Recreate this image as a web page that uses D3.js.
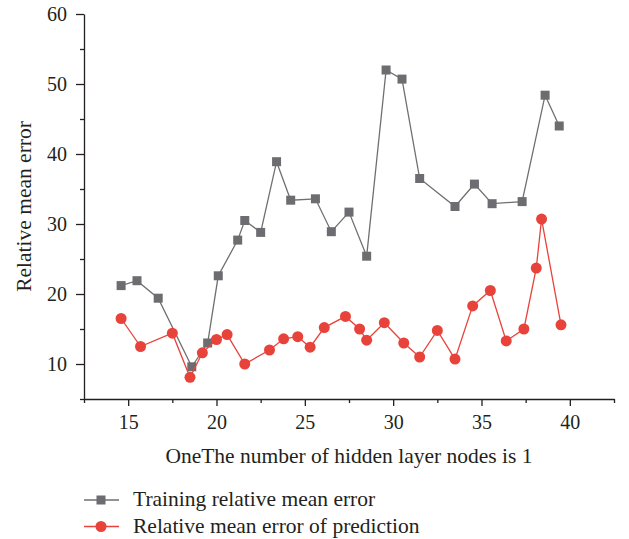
<!DOCTYPE html>
<html>
<head>
<meta charset="utf-8">
<script src="https://cdn.jsdelivr.net/npm/d3@7"></script>
<style>
  body { margin: 0; background: #fff; }
  svg text { font-family: "Liberation Serif", serif; fill: #231f20; }
</style>
</head>
<body>
<div id="chart"></div>
<script>
// training error (grey squares)
const trainX = [14.6, 15.5, 16.7, 18.6, 19.5, 20.1, 21.2, 21.6, 22.5, 23.4, 24.2, 25.6, 26.5, 27.5, 28.5, 29.6, 30.5, 31.5, 33.5, 34.6, 35.6, 37.3, 38.6, 39.4]
const trainY = [21.2, 21.9, 19.4, 9.6, 13.0, 22.6, 27.7, 30.5, 28.8, 38.9, 33.4, 33.6, 28.9, 31.7, 25.4, 52.0, 50.7, 36.5, 32.5, 35.7, 32.9, 33.2, 48.4, 44.0]

// prediction error (red circles)
const predX = [14.6, 15.7, 17.5, 18.5, 19.2, 20.0, 20.6, 21.6, 23.0, 23.8, 24.6, 25.3, 26.1, 27.3, 28.1, 28.5, 29.5, 30.6, 31.5, 32.5, 33.5, 34.5, 35.5, 36.4, 37.4, 38.1, 38.4, 39.5]
const predY = [16.5, 12.5, 14.4, 8.1, 11.6, 13.5, 14.2, 10.0, 12.0, 13.6, 13.9, 12.4, 15.2, 16.8, 15.0, 13.4, 15.9, 13.0, 11.0, 14.8, 10.7, 18.3, 20.5, 13.3, 15.0, 23.7, 30.7, 15.6]

const xTicks = [15, 20, 25, 30, 35, 40]
const xMinor = [12.5, 17.5, 22.5, 27.5, 32.5, 37.5, 42.5]
const yTicks = [10, 20, 30, 40, 50, 60]
const yMinor = [5, 15, 25, 35, 45, 55]

const seriesNames = ["Training relative mean error", "Relative mean error of prediction"]
const xTitle = "OneThe number of hidden layer nodes is 1"
const yTitle = "Relative mean error"

const grey = "#6d6d71"
const greyLine = "#6f6f6f"
const red = "#e8433b"

const W = 629, H = 539
const svg = d3.select("#chart").append("svg")
  .attr("width", W)
  .attr("height", H)

const x = d3.scaleLinear().domain([12.5, 42.5]).range([84, 614])
const y = d3.scaleLinear().domain([5, 60]).range([399, 14])

const axisColor = "#231f20"

function styleAxis(g) {
  g.select(".domain").attr("stroke", axisColor).attr("stroke-width", 1.3)
  g.selectAll(".tick line").attr("stroke", axisColor).attr("stroke-width", 1.3)
  g.selectAll(".tick text").attr("font-size", "20px").attr("fill", axisColor)
}

// x axis
svg.append("g")
  .attr("transform", `translate(0,${y(5)})`)
  .call(d3.axisBottom(x).tickValues(xMinor).tickSize(4).tickFormat("").tickSizeOuter(0))
  .call(styleAxis)
svg.append("g")
  .attr("transform", `translate(0,${y(5)})`)
  .call(d3.axisBottom(x).tickValues(xTicks).tickSize(7).tickPadding(9).tickSizeOuter(0))
  .call(styleAxis)
  .call((g) => g.select(".domain").remove())

// y axis
svg.append("g")
  .attr("transform", `translate(${x(12.5)},0)`)
  .call(d3.axisLeft(y).tickValues(yMinor).tickSize(4).tickFormat("").tickSizeOuter(0))
  .call(styleAxis)
svg.append("g")
  .attr("transform", `translate(${x(12.5)},0)`)
  .call(d3.axisLeft(y).tickValues(yTicks).tickSize(8).tickPadding(9).tickSizeOuter(0))
  .call(styleAxis)
  .call((g) => g.select(".domain").remove())

// axis titles
svg.append("text")
  .attr("x", (x.range()[0] + x.range()[1]) / 2)
  .attr("y", 463)
  .attr("text-anchor", "middle")
  .attr("font-size", "21.5px")
  .text(xTitle)

svg.append("text")
  .attr("transform", `translate(31,${(y.range()[0] + y.range()[1]) / 2}) rotate(-90)`)
  .attr("text-anchor", "middle")
  .attr("font-size", "21.5px")
  .text(yTitle)

const line = d3.line().x((d) => x(d[0])).y((d) => y(d[1]))
const trainData = trainX.map((v, i) => [v, trainY[i]])
const predData = predX.map((v, i) => [v, predY[i]])

// training series
svg.append("path")
  .datum(trainData)
  .attr("fill", "none")
  .attr("stroke", greyLine)
  .attr("stroke-width", 1.3)
  .attr("d", line)

const sq = 9
svg.selectAll(".train-pt")
  .data(trainData)
  .enter()
  .append("rect")
  .attr("class", "train-pt")
  .attr("x", (d) => x(d[0]) - sq / 2)
  .attr("y", (d) => y(d[1]) - sq / 2)
  .attr("width", sq)
  .attr("height", sq)
  .attr("fill", grey)

// prediction series
svg.append("path")
  .datum(predData)
  .attr("fill", "none")
  .attr("stroke", red)
  .attr("stroke-width", 1.3)
  .attr("d", line)

svg.selectAll(".pred-pt")
  .data(predData)
  .enter()
  .append("circle")
  .attr("class", "pred-pt")
  .attr("cx", (d) => x(d[0]))
  .attr("cy", (d) => y(d[1]))
  .attr("r", 5.5)
  .attr("fill", red)

// legend
const legend = svg.append("g")
const legendRows = [
  { name: seriesNames[0], color: greyLine, mark: grey, shape: "square", yPos: 500 },
  { name: seriesNames[1], color: red, mark: red, shape: "circle", yPos: 526.5 }
]
legendRows.forEach((r) => {
  legend.append("line")
    .attr("x1", 84).attr("x2", 119)
    .attr("y1", r.yPos).attr("y2", r.yPos)
    .attr("stroke", r.color)
    .attr("stroke-width", 1.3)
  if (r.shape === "square") {
    legend.append("rect")
      .attr("x", 101 - sq / 2).attr("y", r.yPos - sq / 2)
      .attr("width", sq).attr("height", sq)
      .attr("fill", r.mark)
  } else {
    legend.append("circle")
      .attr("cx", 101).attr("cy", r.yPos)
      .attr("r", 5.5)
      .attr("fill", r.mark)
  }
  legend.append("text")
    .attr("x", 133)
    .attr("y", r.yPos + 6)
    .attr("font-size", "21.5px")
    .text(r.name)
})
</script>
</body>
</html>
